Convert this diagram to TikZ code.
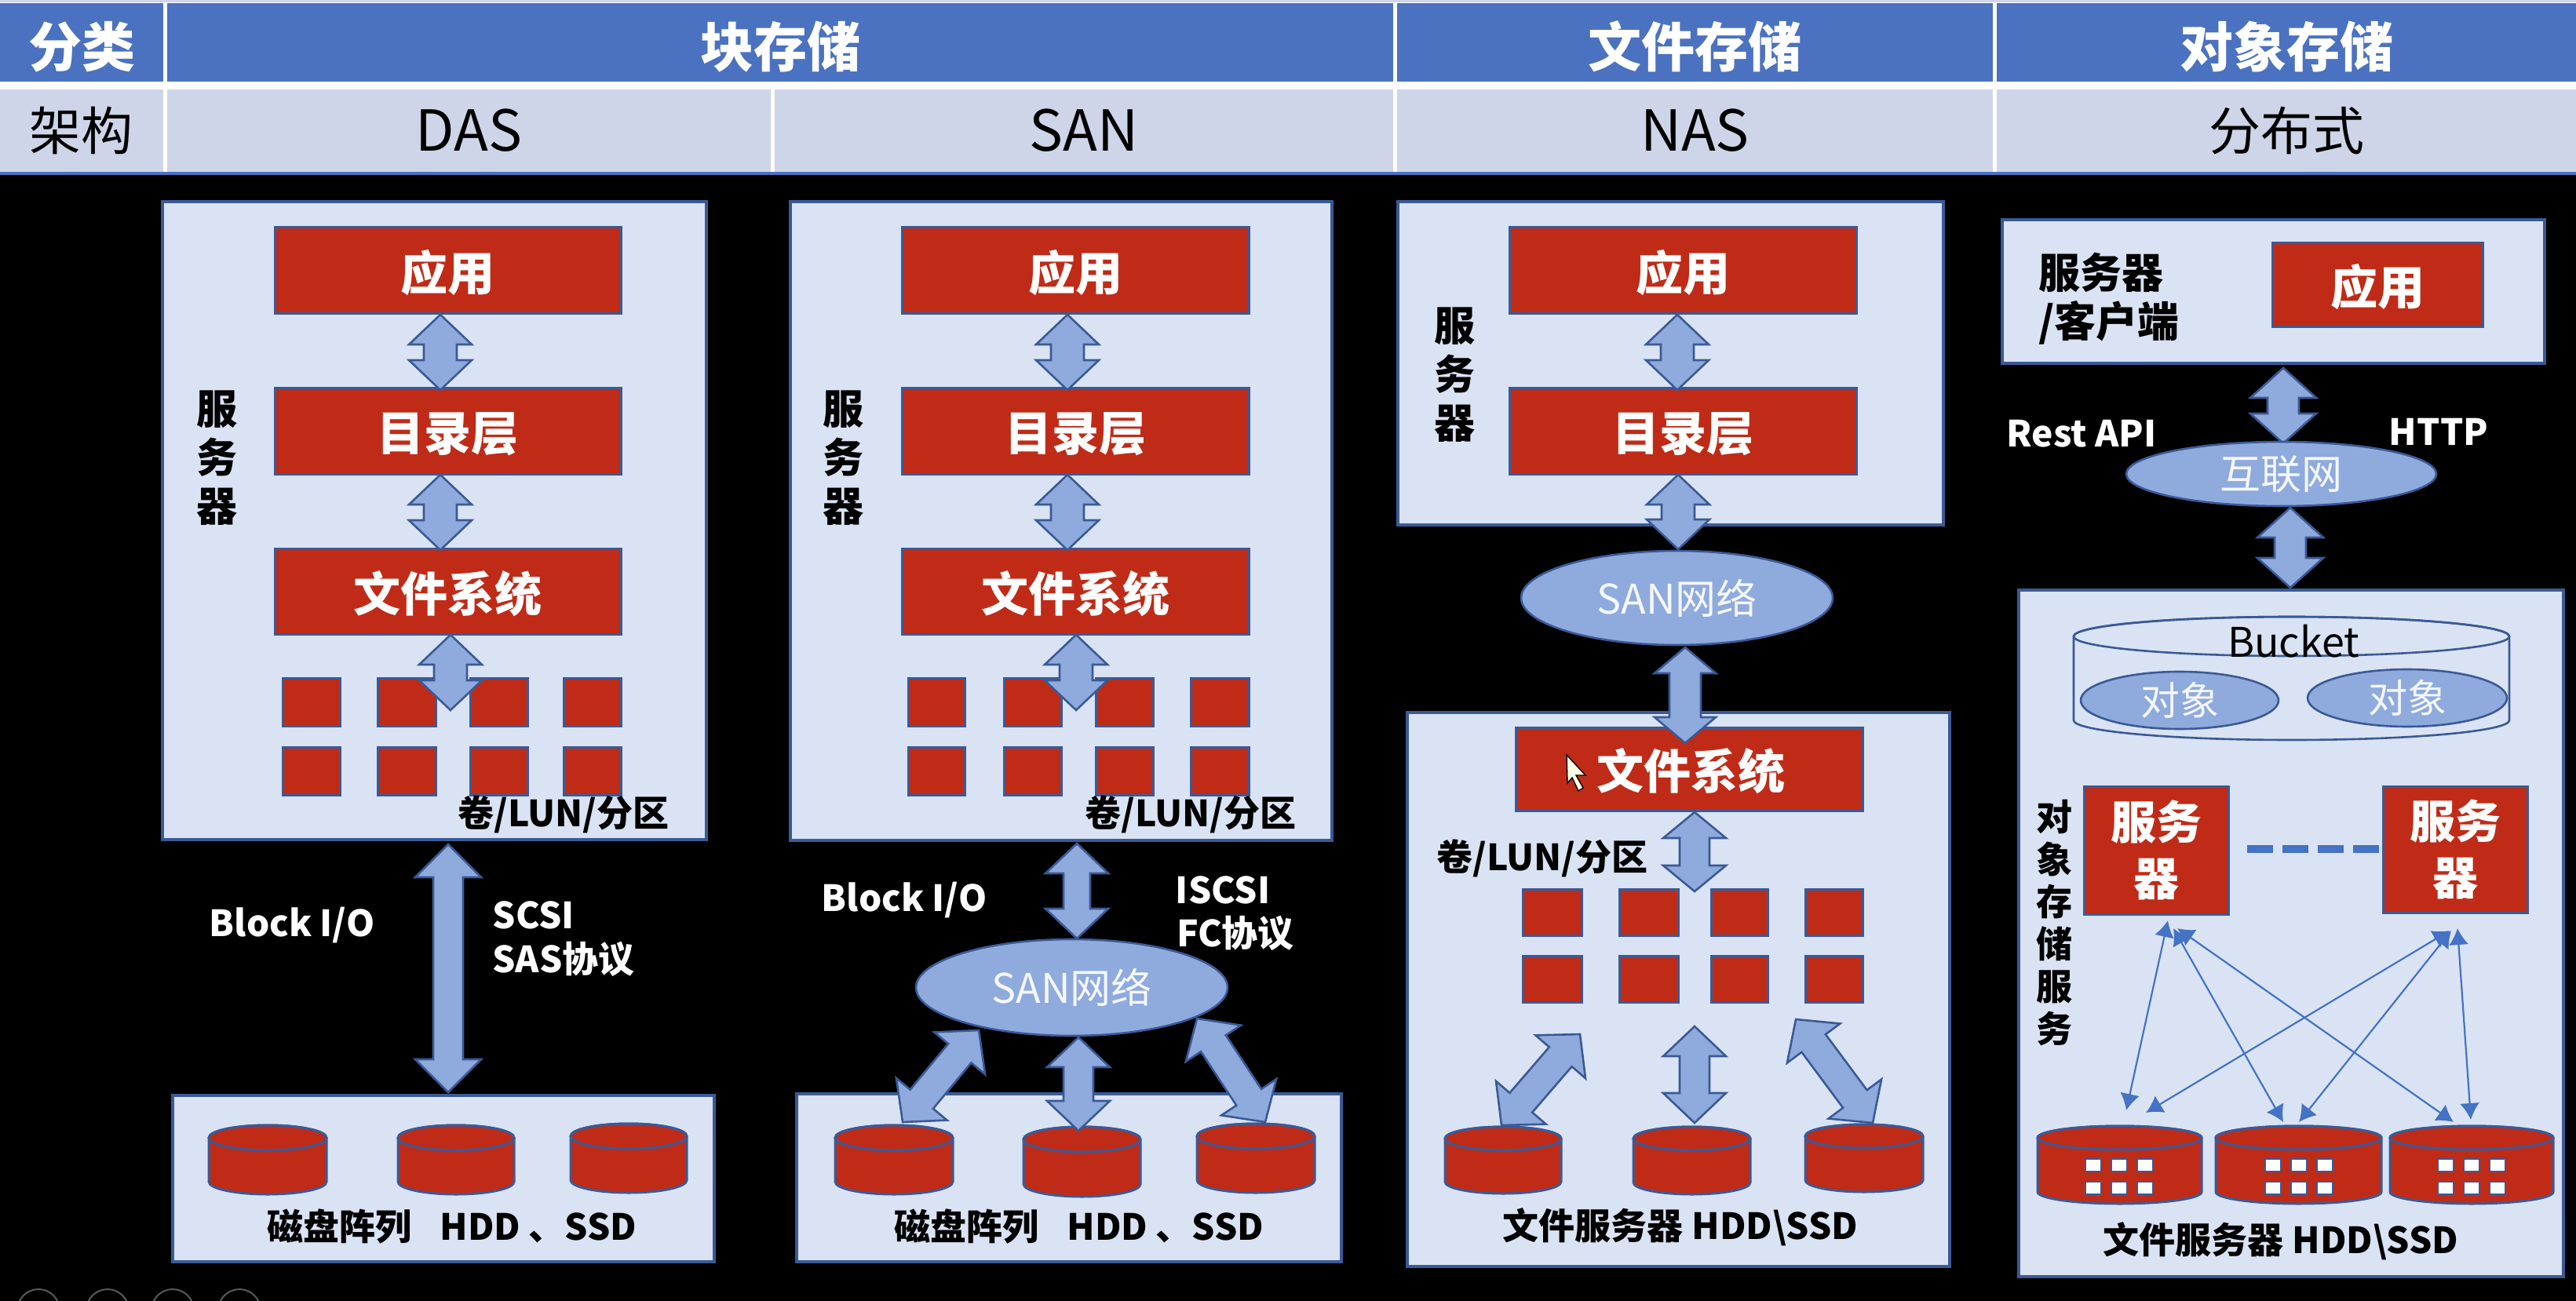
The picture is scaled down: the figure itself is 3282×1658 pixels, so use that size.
\documentclass[tikz,border=0pt]{standalone}
\usepackage{fontspec}
\setmainfont{Noto Sans CJK SC}
\usetikzlibrary{calc,arrows.meta,shapes.geometric}
\definecolor{hblue}{HTML}{4A72C0}
\definecolor{hrow}{HTML}{CFD5E8}
\definecolor{panelc}{HTML}{DAE3F3}
\definecolor{redc}{HTML}{C02B18}
\definecolor{arrc}{HTML}{8FAADC}
\definecolor{edgec}{HTML}{3A5A96}
\definecolor{thinc}{HTML}{4472C4}
\newcommand\fs[2]{\fontsize{#1}{#2}\selectfont}
\newcommand\dn[1]{\raisebox{0pt}[1.1em][0.25em]{#1}}
\newcommand\hd[1]{\raisebox{0pt}[1.2em][0.26em]{#1}}
% rectangle node by its corners in reference pixels
\newcommand\bx[7][]{\pgfmathsetmacro{\bw}{(#5-#3)*0.5}\pgfmathsetmacro{\bh}{(#6-#4)*0.5}%
 \node[#7,minimum width=\bw pt,minimum height=\bh pt,inner sep=0pt,outer sep=0pt,#1] (#2) at ({(#3+#5)/2},{(#4+#6)/2}) {};}
\newcommand\bt[8][]{\pgfmathsetmacro{\bw}{(#5-#3)*0.5}\pgfmathsetmacro{\bh}{(#6-#4)*0.5}%
 \node[#7,minimum width=\bw pt,minimum height=\bh pt,inner sep=0pt,outer sep=0pt,#1] (#2) at ({(#3+#5)/2},{(#4+#6)/2}) {#8};}
% block arrow between two named coordinates
\newcommand\barrow[6]{\coordinate (#1a) at (#2);\coordinate (#1b) at (#3);%
 \pgfmathsetmacro{\ahw}{#4*0.5}\pgfmathsetmacro{\asw}{#5*0.5}\pgfmathsetmacro{\ahl}{#6*0.5}%
 \coordinate (#1p) at ($(#1a)!\ahl pt!(#1b)$);\coordinate (#1q) at ($(#1b)!\ahl pt!(#1a)$);%
 \draw[blockarr] (#1a) -- ($(#1p)!\ahw pt!90:(#1b)$) -- ($(#1p)!\asw pt!90:(#1b)$) -- ($(#1q)!\asw pt!-90:(#1a)$) -- ($(#1q)!\ahw pt!-90:(#1a)$) -- (#1b) -- ($(#1q)!\ahw pt!90:(#1a)$) -- ($(#1q)!\asw pt!90:(#1a)$) -- ($(#1p)!\asw pt!-90:(#1b)$) -- ($(#1p)!\ahw pt!-90:(#1b)$) -- cycle;}
% cylinder: name, x1, ytop-of-shape, x2, ybottom-of-shape, ellipse half height
\newcommand\cyl[7][redcyl]{\pgfmathsetmacro{\crx}{(#5-#3)*0.25}\pgfmathsetmacro{\cry}{#7*0.5}%
 \coordinate (#2) at ({(#3+#5)/2},{(#4+#6)/2});%
 \draw[#1] (#3,#4+#7) -- (#3,#6-#7) arc[start angle=180,end angle=360,x radius=\crx pt,y radius=\cry pt] -- (#5,#4+#7) arc[start angle=0,end angle=180,x radius=\crx pt,y radius=\cry pt] -- cycle;%
 \draw[#1] ({(#3+#5)/2},#4+#7) ellipse[x radius=\crx pt,y radius=\cry pt];}
\newcommand\squares[6]{% prefix, four x starts given as widths
 \foreach \sx/\sw [count=\si] in {#2}{\bx{#1a\si}{\sx}{#3}{\sx+\sw}{#4}{redbox}\bx{#1b\si}{\sx}{#5}{\sx+\sw}{#6}{redbox}}}
\newcommand\disktile[2]{\foreach \dx [count=\di] in {-33,0,33}{\foreach \dy [count=\dj] in {1485,1514}{\node[tile] (#1t\di\dj) at (#2+\dx,\dy) {};}}}
\tikzset{
 x=0.5pt,y=-0.5pt,
 panel/.style={draw=edgec,fill=panelc,line width=2pt,rectangle},
 redbox/.style={draw=edgec,fill=redc,line width=1.5pt,rectangle},
 redlabel/.style={redbox,text=white,font=\fs{30}{36}\bfseries,align=center},
 headcell/.style={fill=hblue,rectangle,text=white,font=\fs{34}{36}\bfseries},
 rowcell/.style={fill=hrow,rectangle,text=black,font=\fs{33}{36}},
 blockarr/.style={draw=edgec,fill=arrc,line width=1.3pt,line join=miter,miter limit=10},
 redcyl/.style={draw=edgec,fill=redc,line width=1.5pt},
 bucketcyl/.style={draw=edgec,fill=none,line width=1.3pt},
 net/.style={ellipse,draw=edgec,fill=arrc,line width=1.3pt,text=white!90!arrc,font=\fs{26}{30}},
 blk/.style={text=black,font=\fs{23}{26}\bfseries,inner sep=0pt,align=center},
 wht/.style={text=white,font=\fs{23}{26}\bfseries,inner sep=0pt,align=left},
 vert/.style={text=black,font=\fs{26}{31}\bfseries,inner sep=0pt,align=center},
 thinarr/.style={draw=thinc,line width=1.1pt,{Latex[length=10.5pt,width=12.5pt]}-{Latex[length=10.5pt,width=12.5pt]}},
 tile/.style={rectangle,draw=edgec,fill=white,line width=1.4pt,minimum width=10pt,minimum height=8pt,inner sep=0pt},
 ctrl/.style={circle,draw=black!65,line width=1pt,minimum size=27pt,inner sep=0pt,fill=none},
}
\begin{document}
\begin{tikzpicture}
\useasboundingbox (0,0) rectangle (3282,1658);
\fill[black] (0,0) rectangle (3282,1658);
% header
\fill[white] (0,0) rectangle (3282,219);
\fill[hrow] (0,0) rectangle (3282,3);
\fill[hblue] (0,219) rectangle (3282,223);
\bt{h1}{0}{4}{208}{104}{headcell}{\hd{分类}}
\bt{h2}{213}{4}{1775}{104}{headcell}{\hd{块存储}}
\bt{h3}{1780}{4}{2539}{104}{headcell}{\hd{文件存储}}
\bt{h4}{2544}{4}{3282}{104}{headcell}{\hd{对象存储}}
\bt{r1}{0}{114}{208}{219}{rowcell}{架构}
\bt{r2}{213}{114}{982}{219}{rowcell,font=\fs{36}{36}}{DAS}
\bt{r3}{987}{114}{1775}{219}{rowcell,font=\fs{36}{36}}{SAN}
\bt{r4}{1780}{114}{2539}{219}{rowcell,font=\fs{36}{36}}{NAS}
\bt{r5}{2544}{114}{3282}{219}{rowcell}{分布式}

% ---------- DAS
\bx{s1}{207}{257}{900}{1070}{panel}
\bt{s1app}{350}{290}{791}{400}{redlabel}{\dn{应用}}
\bt{s1dir}{350}{494}{791}{604}{redlabel}{\dn{目录层}}
\bt{s1fs}{350}{699}{791}{808}{redlabel}{\dn{文件系统}}
\squares{s1v}{360/73,481/74,599/73,718/73}{864}{925}{952}{1013}
\barrow{a11}{561,401}{561,497}{40}{21}{38}
\barrow{a12}{561,605}{561,701}{40}{21}{38}
\barrow{a13}{574,809}{574,905}{40}{21}{38}
\node[vert] (s1lab) at (276,584) {服\\务\\器};
\node[blk] (s1lun) at (718,1038) {卷/LUN/分区};
\barrow{a14}{571,1076}{571,1392}{42}{19}{42}
\node[wht] (t1a) at (372,1179) {Block I/O};
\node[wht] (t1b) at (680,1166) {SCSI};
\node[wht] (t1c) at (718,1222) {SAS协议};
\bx{d1}{220}{1396}{910}{1608}{panel}
\cyl{d1a}{266}{1434}{416}{1522}{16}
\cyl{d1b}{507}{1434}{655}{1522}{16}
\cyl{d1c}{727}{1432}{875}{1520}{16}
\node[blk] (d1lab) at (576,1563) {磁盘阵列\hspace{18pt}HDD 、SSD};

% ---------- SAN
\bx{s2}{1007}{257}{1697}{1071}{panel}
\bt{s2app}{1149}{290}{1591}{400}{redlabel}{\dn{应用}}
\bt{s2dir}{1149}{494}{1591}{604}{redlabel}{\dn{目录层}}
\bt{s2fs}{1149}{699}{1591}{808}{redlabel}{\dn{文件系统}}
\squares{s2v}{1157/72,1279/73,1396/73,1517/74}{864}{925}{952}{1013}
\barrow{a21}{1360,401}{1360,497}{40}{21}{38}
\barrow{a22}{1360,605}{1360,701}{40}{21}{38}
\barrow{a23}{1371,809}{1371,905}{40}{21}{38}
\node[vert] (s2lab) at (1074,584) {服\\务\\器};
\node[blk] (s2lun) at (1517,1038) {卷/LUN/分区};
\barrow{a24}{1372,1075}{1372,1196}{40}{17}{38}
\node[wht] (t2a) at (1152,1147) {Block I/O};
\node[wht] (t2b) at (1558,1134) {ISCSI};
\node[wht] (t2c) at (1574,1189) {FC协议};
\bx{d2}{1015}{1394}{1709}{1608}{panel}
\bt{n2}{1167}{1197}{1564}{1320}{net}{SAN网络}
\cyl{d2a}{1064}{1434}{1214}{1522}{16}
\cyl{d2b}{1304}{1436}{1453}{1525}{16}
\cyl{d2c}{1525}{1432}{1675}{1520}{16}
\barrow{a25}{1150,1430}{1247,1313}{42}{19}{38}
\barrow{a26}{1374,1322}{1374,1441}{40}{19}{38}
\barrow{a27}{1612,1430}{1525,1298}{42}{19}{38}
\node[blk] (d2lab) at (1375,1563) {磁盘阵列\hspace{18pt}HDD 、SSD};

% ---------- NAS
\bx{s3}{1781}{257}{2476}{669}{panel}
\bt{s3app}{1923}{290}{2365}{400}{redlabel}{\dn{应用}}
\bt{s3dir}{1923}{494}{2365}{604}{redlabel}{\dn{目录层}}
\barrow{a31}{2137,401}{2137,497}{40}{21}{38}
\barrow{a32}{2138,605}{2138,700}{40}{21}{38}
\node[vert] (s3lab) at (1853,478) {服\\务\\器};
\bt{n3}{1938}{702}{2335}{822}{net}{SAN网络}
\bx{f3}{1793}{908}{2484}{1614}{panel}
\bt{f3fs}{1931}{927}{2373}{1033}{redlabel}{\dn{\hspace{2pt}文件系统}}
\barrow{a33}{2147,825}{2147,947}{39}{20}{33}
\barrow{a34}{2159,1035}{2159,1136}{40}{19}{33}
\node[blk] (f3lun) at (1965,1094) {卷/LUN/分区};
\squares{f3v}{1940/75,2063/75,2180/72,2300/73}{1133}{1192}{1218}{1277}
\barrow{a35}{1913,1434}{2013,1318}{42}{19}{38}
\barrow{a36}{2159,1308}{2159,1431}{40}{19}{38}
\barrow{a37}{2386,1431}{2288,1299}{42}{19}{38}
\cyl{d3a}{1841}{1436}{1989}{1521}{15}
\cyl{d3b}{2081}{1436}{2230}{1522}{15}
\cyl{d3c}{2300}{1433}{2450}{1519}{15}
\node[blk] (f3lab) at (2141,1564) {文件服务器 HDD\textbackslash SSD};
\draw[black,fill=white!90!yellow,line width=0.7pt] (1996,962) -- (2020,988) -- (2008,988) -- (2017,1004) -- (2011,1008) -- (2003,991) -- (1997,998) -- cycle;

% ---------- Object
\bx{s4}{2551}{280}{3242}{463}{panel}
\node[blk,anchor=west,font=\fs{26.5}{31}\bfseries] (s4a) at (2597,347) {服务器};
\node[blk,anchor=west,font=\fs{26.5}{31}\bfseries] (s4b) at (2597,411) {/客户端};
\bt{s4app}{2895}{310}{3163}{417}{redlabel}{\dn{应用}}
\barrow{a41}{2909,469}{2909,565}{42}{20}{38}
\bt{n4}{2709}{563}{3104}{645}{net}{互联网}
\node[wht] (t4a) at (2652,553) {Rest API};
\node[wht] (t4b) at (3107,550) {HTTP};
\barrow{a42}{2918,647}{2918,749}{42}{20}{38}
\bx{p4}{2572}{752}{3266}{1627}{panel}
\cyl[bucketcyl]{bk}{2642}{786}{3197}{943}{25}
\node[text=black,font=\fs{26}{30},inner sep=0pt] (bktxt) at (2922,817) {Bucket};
\bt{o1}{2651}{856}{2903}{929}{net,font=\fs{25}{30}}{对象}
\bt{o2}{2940}{853}{3194}{926}{net,font=\fs{25}{30}}{对象}
\bt{sv1}{2655}{1002}{2839}{1165}{redlabel,font=\fs{29}{36}\bfseries}{服务\\器}
\bt{sv2}{3036}{1002}{3220}{1163}{redlabel,font=\fs{29}{36}\bfseries}{服务\\器}
\node[vert,font=\fs{23}{27}\bfseries] (p4lab) at (2617,1176) {对\\象\\存\\储\\服\\务};
\coordinate (dsh1) at (2863,1082);
\coordinate (dsh2) at (3031,1082);
\draw[thinc,line width=5pt,dash pattern=on 16.5pt off 6pt] (dsh1) -- (dsh2);
\cyl{da}{2596}{1435}{2805}{1534}{15}
\cyl{db}{2823}{1435}{3034}{1534}{15}
\cyl{dc}{3045}{1435}{3253}{1534}{15}
\disktile{da}{2700}
\disktile{db}{2929}
\disktile{dc}{3149}
\coordinate (u1a) at (2762,1173); \coordinate (u1b) at (2769,1183); \coordinate (u1c) at (2774,1183);
\coordinate (u2a) at (3121,1186); \coordinate (u2b) at (3123,1186); \coordinate (u2c) at (3131,1183);
\coordinate (v1a) at (2709,1415); \coordinate (v1b) at (2734,1418);
\coordinate (v2a) at (2909,1430); \coordinate (v2b) at (2929,1430);
\coordinate (v3a) at (3126,1430); \coordinate (v3b) at (3148,1427);
\draw[thinarr] (u1a) -- (v1a);
\draw[thinarr] (u1b) -- (v2a);
\draw[thinarr] (u1c) -- (v3a);
\draw[thinarr] (u2a) -- (v1b);
\draw[thinarr] (u2b) -- (v2b);
\draw[thinarr] (u2c) -- (v3b);
\node[blk] (p4txt) at (2906,1582) {文件服务器 HDD\textbackslash SSD};

% player buttons, cut by the lower edge
\begin{scope}
\clip (0,0) rectangle (3282,1658);
\foreach \cx [count=\ci] in {49,137,220,305}{\node[ctrl] (btn\ci) at (\cx,1670) {};}
\end{scope}
\end{tikzpicture}
\end{document}
